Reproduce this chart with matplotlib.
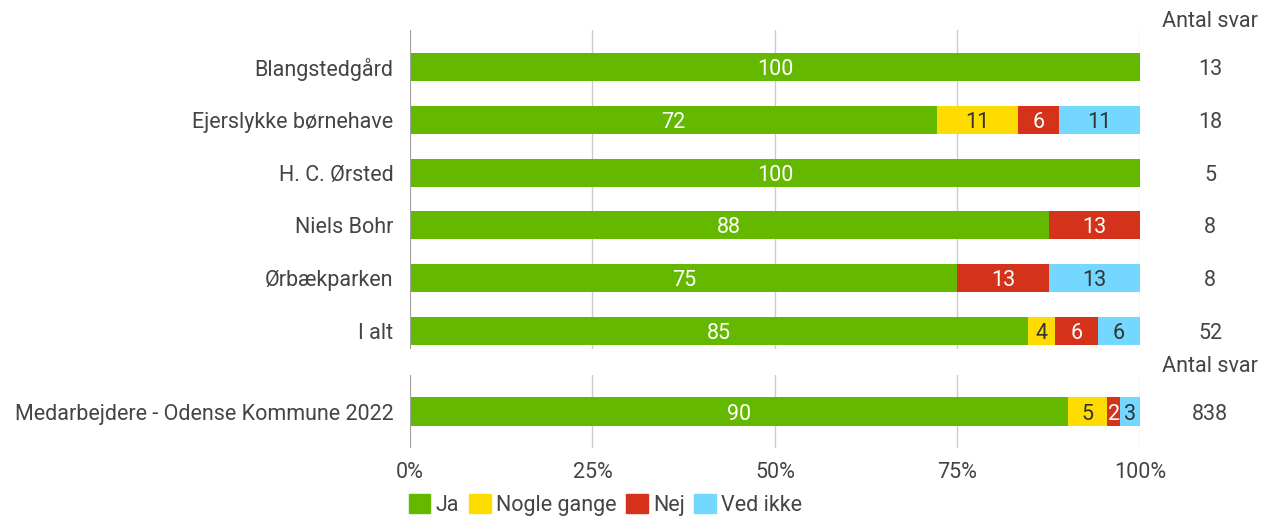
import matplotlib
matplotlib.use('Agg')
import matplotlib.pyplot as plt
from matplotlib.patches import Patch

plt.rcParams['font.family'] = ['Roboto', 'DejaVu Sans']

# data (percent of answers)
categories = ['Blangstedgård', 'Ejerslykke børnehave', 'H. C. Ørsted',
              'Niels Bohr', 'Ørbækparken', 'I alt']
ja = [100, 72.2, 100, 87.5, 75, 84.6]
nogle = [0, 11.1, 0, 0, 0, 3.8]
nej = [0, 5.6, 0, 12.5, 12.5, 5.8]
vedikke = [0, 11.1, 0, 0, 12.5, 5.8]
counts = [13, 18, 5, 8, 8, 52]

ref_category = ['Medarbejdere - Odense Kommune 2022']
ref_ja = [90.1]
ref_nogle = [5.4]
ref_nej = [1.8]
ref_vedikke = [2.7]
ref_counts = [838]

series_names = ['Ja', 'Nogle gange', 'Nej', 'Ved ikke']
colors = ['#64b900', '#ffdc00', '#d4321a', '#73d7ff']
text_colors = ['white', '#333333', 'white', '#333333']
xticks = [0, 25, 50, 75, 100]
xticklabels = ['0%', '25%', '50%', '75%', '100%']

dark = '#444444'
fs = 15.5
bar_h = 0.53


def draw_panel(ax, cats, series, cnts, ylim, show_x):
    ypos = list(range(len(cats)))
    for x in xticks:
        if x == 0:
            ax.axvline(x, color='#a0a0a0', lw=1.6, zorder=3)
        else:
            ax.axvline(x, color='#cccccc', lw=1.0, zorder=0)
    left = [0] * len(cats)
    for vals, col, tcol in zip(series, colors, text_colors):
        ax.barh(ypos, vals, left=left, height=bar_h, color=col, zorder=2)
        for y, l, v in zip(ypos, left, vals):
            if v > 0:
                ax.text(l + v / 2, y, str(int(v + 0.5)), ha='center',
                        va='center_baseline', color=tcol, fontsize=fs, zorder=4)
        left = [a + b for a, b in zip(left, vals)]
    for y, c in zip(ypos, cnts):
        ax.text(109.6, y, str(c), ha='center', va='center_baseline', color=dark,
                fontsize=fs, clip_on=False)
    ax.text(109.6, ylim[1] - 0.21, 'Antal svar', ha='center', va='center_baseline',
            color=dark, fontsize=fs, clip_on=False)
    ax.set_xlim(0, 100)
    ax.set_ylim(*ylim)
    ax.set_yticks(ypos)
    ax.set_yticklabels(cats, fontsize=fs, color=dark)
    ax.set_xticks(xticks)
    if show_x:
        ax.set_xticklabels(xticklabels, fontsize=fs, color=dark)
    else:
        ax.set_xticklabels([])
    ax.tick_params(length=0, pad=12)
    for s in ax.spines.values():
        s.set_visible(False)


fig = plt.figure(figsize=(12.72, 5.21), dpi=100)
ax1 = fig.add_axes([0.3223, 0.3301, 0.5739, 0.6123])
ax2 = fig.add_axes([0.3223, 0.1401, 0.5739, 0.1401])

draw_panel(ax1, categories, [ja, nogle, nej, vedikke], counts, (5.34, -0.70), False)
draw_panel(ax2, ref_category, [ref_ja, ref_nogle, ref_nej, ref_vedikke],
           ref_counts, (0.69, -0.69), True)
ax2.tick_params(axis='x', pad=10)

handles = [Patch(facecolor=c, edgecolor=c) for c in colors]
fig.legend(handles, series_names, loc='center left', bbox_to_anchor=(0.3215, 0.031),
           ncol=4, frameon=False, fontsize=fs, handlelength=1.0, handleheight=1.0,
           handletextpad=0.25, columnspacing=0.45, labelcolor=dark,
           borderpad=0.0, borderaxespad=0.0)

fig.savefig('out.png', dpi=100)
